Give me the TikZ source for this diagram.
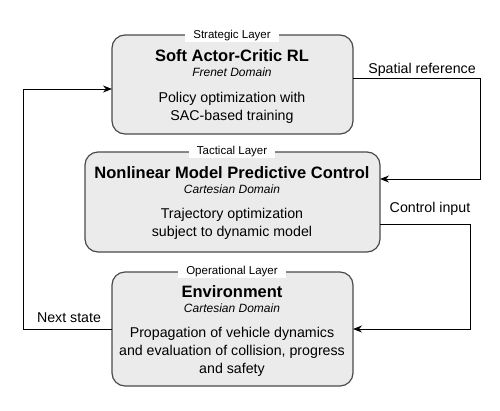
\documentclass[tikz,border=0pt]{standalone}
\usepackage{fontspec}
\setmainfont{Liberation Sans}
\usetikzlibrary{arrows.meta}
\definecolor{boxfill}{HTML}{EBEBEB}
\definecolor{boxdraw}{HTML}{4A4A4A}
\tikzset{
  layerbox/.style={draw=boxdraw, fill=boxfill, line width=1.2pt, rounded corners=13pt},
  layerlabel/.style={fill=white, inner xsep=8pt, inner ysep=1pt, font=\fontsize{11.5}{13}\selectfont},
  ttl/.style={font=\fontsize{16.5}{19}\selectfont\bfseries},
  dom/.style={font=\fontsize{12}{14}\selectfont\itshape},
  body/.style={font=\fontsize{14.2}{18}\selectfont, align=center},
  conn/.style={draw=black, line width=1pt, -{Stealth[length=9pt,width=7pt]}},
  elabel/.style={font=\fontsize{14.2}{16}\selectfont, inner sep=0pt}
}
\begin{document}
\begin{tikzpicture}[x=1pt,y=-1pt]
\useasboundingbox (0,0) rectangle (500,410);
% boxes
\draw[layerbox] (112,35) rectangle (353,134);
\coordinate (b1w) at (112,89);
\coordinate (b1e) at (353,78);
\node[layerlabel] (l1) at (232,36) {Strategic Layer};
\node[ttl] (t1) at (232,56) {Soft Actor-Critic RL};
\node[dom] (d1) at (232,72) {Frenet Domain};
\node[body] (x1) at (232,108) {Policy optimization with\\SAC-based training};

\draw[layerbox] (85,152) rectangle (380,252);
\coordinate (b2e) at (380,179);
\coordinate (b2o) at (380,224);
\node[layerlabel] (l2) at (232,152) {Tactical Layer};
\node[ttl] (t2) at (232,173) {Nonlinear Model Predictive Control};
\node[dom] (d2) at (232,189) {Cartesian Domain};
\node[body] (x2) at (232,224) {Trajectory optimization\\subject to dynamic model};

\draw[layerbox] (112,272) rectangle (353,386);
\coordinate (b3e) at (353,329);
\coordinate (b3w) at (112,329);
\node[layerlabel] (l3) at (232,272) {Operational Layer};
\node[ttl] (t3) at (232,292) {Environment};
\node[dom] (d3) at (232,308) {Cartesian Domain};
\node[body] (x3) at (232,352) {Propagation of vehicle dynamics\\and evaluation of collision, progress\\and safety};

% connectors
\coordinate (c1) at (480,78);
\coordinate (c2) at (480,179);
\draw[conn] (b1e) -- (c1) -- (c2) -- (b2e);
\node[elabel] (s1) at (422,70) {Spatial reference};

\coordinate (c3) at (470,224);
\coordinate (c4) at (470,329);
\draw[conn] (b2o) -- (c3) -- (c4) -- (b3e);
\node[elabel] (s2) at (430,209) {Control input};

\coordinate (c5) at (23,329);
\coordinate (c6) at (23,89);
\draw[conn] (b3w) -- (c5) -- (c6) -- (b1w);
\node[elabel] (s3) at (69,318) {Next state};
\end{tikzpicture}
\end{document}
